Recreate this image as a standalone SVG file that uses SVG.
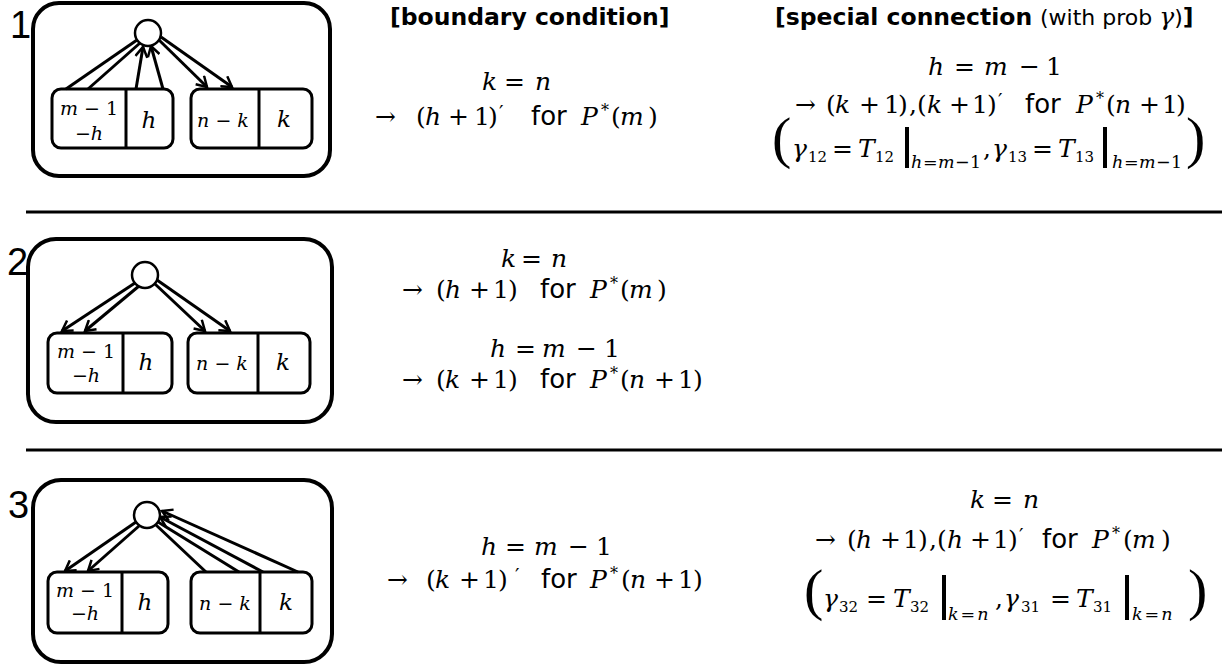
<svg xmlns="http://www.w3.org/2000/svg" width="1222" height="668" viewBox="0 0 1222 668">
<style>
.frame{fill:#fff;stroke:#000;stroke-width:4}
.box{fill:#fff;stroke:#000;stroke-width:3}
.div{stroke:#000;stroke-width:3}
.node{fill:#fff;stroke:#000;stroke-width:2.5}
.conn line{stroke:#000;stroke-width:3}
.sep{stroke:#000;stroke-width:3}
.num{font-family:"Liberation Sans",Arial,sans-serif;font-size:38px;fill:#000}
.m{font-family:"DejaVu Serif","Liberation Serif",serif;font-size:25px;fill:#000}
.bm{font-family:"DejaVu Serif","Liberation Serif",serif;font-size:19px;fill:#000}
.bl{font-family:"DejaVu Serif","Liberation Serif",serif;font-size:23px;font-style:italic;fill:#000}
.i{font-style:italic}
.f{font-family:"DejaVu Sans",Verdana,sans-serif;font-size:26px;font-style:normal}
.hd{font-family:"DejaVu Sans",Verdana,sans-serif;font-size:23.5px;fill:#000}
.b{font-weight:bold}
.big{font-family:"Liberation Serif","Times New Roman",serif;font-size:58px;fill:#000}
.sup{font-size:16px;font-style:normal}
.pr{font-size:20px;font-style:normal}
.sb{font-size:15px;font-style:normal}
.lim{font-family:"DejaVu Serif","Liberation Serif",serif;font-size:17.5px;fill:#000}
.bar{stroke:#000;stroke-width:4}
</style>
<defs>
<marker id="ah" viewBox="0 0 14 14" markerWidth="14" markerHeight="14" refX="12" refY="7" orient="auto" markerUnits="userSpaceOnUse">
<path d="M2,1 L12,7 L2,13" fill="none" stroke="#000" stroke-width="2.5"/>
</marker>
</defs>

<!-- separators -->
<line class="sep" x1="26" y1="212" x2="1222" y2="212"/>
<line class="sep" x1="26" y1="450" x2="1222" y2="450"/>

<!-- ===== Panel 1 ===== -->
<g id="panel1">
<text class="num" x="10" y="38">1</text>
<rect class="frame" x="33" y="3" width="297" height="173" rx="26"/>
</g>
<g id="p1-left">
<rect class="box" x="52" y="89" width="121" height="59" rx="9"/>
<line class="div" x1="126" y1="89" x2="126" y2="148"/>
<text class="bm" x="89" y="115" text-anchor="middle"><tspan class="i">m</tspan> − 1</text>
<text class="bm" x="89" y="140" text-anchor="middle">−<tspan class="i">h</tspan></text>
<text class="bl" x="149" y="128" text-anchor="middle">h</text>
</g>
<g id="p1-right">
<rect class="box" x="191" y="89" width="121" height="59" rx="9"/>
<line class="div" x1="259" y1="89" x2="259" y2="148"/>
<text class="bm" x="223" y="127" text-anchor="middle"><tspan class="i">n</tspan> − <tspan class="i">k</tspan></text>
<text class="bl" x="284" y="127" text-anchor="middle">k</text>
</g>
<g id="p1-conn" class="conn">
<line x1="66" y1="89" x2="137" y2="40"/>
<line x1="88" y1="89" x2="140" y2="43"/>
<line x1="136" y1="89" x2="143" y2="47" marker-end="url(#ah)"/>
<line x1="163" y1="89" x2="151" y2="46" marker-end="url(#ah)"/>
<line x1="159" y1="40" x2="207" y2="87" marker-end="url(#ah)"/>
<line x1="161" y1="37" x2="232" y2="87" marker-end="url(#ah)"/>
</g>
<g id="p1-node"><circle class="node" cx="148" cy="33" r="13"/></g>

<g id="p1-text">
<text class="hd b" x="390" y="25">[boundary condition]</text>
<text class="m" y="90"><tspan class="i" x="482">k</tspan><tspan x="504">=</tspan><tspan class="i" x="535">n</tspan></text>
<text class="m" y="125"><tspan x="375">→</tspan><tspan x="416">(</tspan><tspan class="i" x="425">h</tspan><tspan x="448">+</tspan><tspan x="474">1</tspan><tspan x="488">)</tspan><tspan class="pr" x="499" y="120">′</tspan><tspan class="f" x="531" y="125">for</tspan><tspan class="i" x="581">P</tspan><tspan class="sup" x="601" y="116">*</tspan><tspan x="611" y="125">(</tspan><tspan class="i" x="620">m</tspan><tspan x="648">)</tspan></text>

<text class="hd" x="775" y="25"><tspan class="b">[special connection</tspan><tspan font-size="22" x="1040">(with prob </tspan><tspan class="m i" font-size="22">γ</tspan><tspan font-size="22">)</tspan><tspan class="b">]</tspan></text>
<text class="m" y="75"><tspan class="i" x="928">h</tspan><tspan x="954">=</tspan><tspan class="i" x="984">m</tspan><tspan x="1019">−</tspan><tspan x="1046">1</tspan></text>
<text class="m" y="113"><tspan x="795">→</tspan><tspan x="826">(</tspan><tspan class="i" x="835">k</tspan><tspan x="859">+</tspan><tspan x="884">1</tspan><tspan x="898">)</tspan><tspan x="909">,</tspan><tspan x="917">(</tspan><tspan class="i" x="927">k</tspan><tspan x="949">+</tspan><tspan x="972">1</tspan><tspan x="987">)</tspan><tspan class="pr" x="998" y="108">′</tspan><tspan class="f" x="1025" y="113">for</tspan><tspan class="i" x="1076">P</tspan><tspan class="sup" x="1096" y="104">*</tspan><tspan x="1106" y="113">(</tspan><tspan class="i" x="1115">n</tspan><tspan x="1139">+</tspan><tspan x="1162">1</tspan><tspan x="1176">)</tspan></text>
<text class="big" x="772" y="157">(</text>
<text class="m" y="157"><tspan class="i" x="792">γ</tspan><tspan class="sb" x="808" y="162">12</tspan><tspan x="832" y="157">=</tspan><tspan class="i" x="858">T</tspan><tspan class="sb" x="875" y="162">12</tspan></text>
<line class="bar" x1="907" y1="127" x2="907" y2="168"/>
<text class="lim" y="168"><tspan class="i" x="911">h</tspan><tspan x="923">=</tspan><tspan class="i" x="938">m</tspan><tspan x="955">−</tspan><tspan x="970">1</tspan></text>
<text class="m" y="157"><tspan x="983">,</tspan><tspan class="i" x="992">γ</tspan><tspan class="sb" x="1008" y="162">13</tspan><tspan x="1032" y="157">=</tspan><tspan class="i" x="1058">T</tspan><tspan class="sb" x="1075" y="162">13</tspan></text>
<line class="bar" x1="1105" y1="127" x2="1105" y2="168"/>
<text class="lim" y="168"><tspan class="i" x="1112">h</tspan><tspan x="1124">=</tspan><tspan class="i" x="1139">m</tspan><tspan x="1156">−</tspan><tspan x="1171">1</tspan></text>
<text class="big" x="1186" y="157">)</text>
</g>

<!-- ===== Panel 2 ===== -->
<g id="panel2">
<text class="num" x="7" y="275">2</text>
<rect class="frame" x="28" y="239" width="304" height="183" rx="28"/>
</g>
<g id="p2-left">
<rect class="box" x="48" y="333" width="124" height="60" rx="9"/>
<line class="div" x1="123" y1="333" x2="123" y2="393"/>
<text class="bm" x="86" y="358" text-anchor="middle"><tspan class="i">m</tspan> − 1</text>
<text class="bm" x="86" y="382" text-anchor="middle">−<tspan class="i">h</tspan></text>
<text class="bl" x="146" y="370" text-anchor="middle">h</text>
</g>
<g id="p2-right">
<rect class="box" x="188" y="333" width="122" height="60" rx="9"/>
<line class="div" x1="258" y1="333" x2="258" y2="393"/>
<text class="bm" x="222" y="370" text-anchor="middle"><tspan class="i">n</tspan> − <tspan class="i">k</tspan></text>
<text class="bl" x="283" y="370" text-anchor="middle">k</text>
</g>
<g id="p2-conn" class="conn">
<line x1="135" y1="283" x2="62" y2="331" marker-end="url(#ah)"/>
<line x1="139" y1="286" x2="85" y2="331" marker-end="url(#ah)"/>
<line x1="155" y1="284" x2="205" y2="331" marker-end="url(#ah)"/>
<line x1="157" y1="280" x2="230" y2="331" marker-end="url(#ah)"/>
</g>
<g id="p2-node"><circle class="node" cx="145" cy="275" r="13"/></g>
<g id="p2-text">
<text class="m" y="267"><tspan class="i" x="501">k</tspan><tspan x="521">=</tspan><tspan class="i" x="551">n</tspan></text>
<text class="m" y="298"><tspan x="402">→</tspan><tspan x="436">(</tspan><tspan class="i" x="445">h</tspan><tspan x="469">+</tspan><tspan x="493">1</tspan><tspan x="508">)</tspan><tspan class="f" x="540">for</tspan><tspan class="i" x="590">P</tspan><tspan class="sup" x="610" y="289">*</tspan><tspan x="620" y="298">(</tspan><tspan class="i" x="629">m</tspan><tspan x="657">)</tspan></text>
<text class="m" y="357"><tspan class="i" x="490">h</tspan><tspan x="515">=</tspan><tspan class="i" x="542">m</tspan><tspan x="576">−</tspan><tspan x="604">1</tspan></text>
<text class="m" y="388"><tspan x="402">→</tspan><tspan x="436">(</tspan><tspan class="i" x="445">k</tspan><tspan x="469">+</tspan><tspan x="493">1</tspan><tspan x="508">)</tspan><tspan class="f" x="540">for</tspan><tspan class="i" x="590">P</tspan><tspan class="sup" x="610" y="379">*</tspan><tspan x="620" y="388">(</tspan><tspan class="i" x="629">n</tspan><tspan x="654">+</tspan><tspan x="678">1</tspan><tspan x="693">)</tspan></text>
</g>

<!-- ===== Panel 3 ===== -->
<g id="panel3">
<text class="num" x="8" y="518">3</text>
<rect class="frame" x="33" y="480" width="299" height="182" rx="28"/>
</g>
<g id="p3-left">
<rect class="box" x="48" y="572" width="120" height="61" rx="9"/>
<line class="div" x1="122" y1="572" x2="122" y2="633"/>
<text class="bm" x="85" y="597" text-anchor="middle"><tspan class="i">m</tspan> − 1</text>
<text class="bm" x="85" y="620" text-anchor="middle">−<tspan class="i">h</tspan></text>
<text class="bl" x="145" y="610" text-anchor="middle">h</text>
</g>
<g id="p3-right">
<rect class="box" x="191" y="572" width="121" height="61" rx="9"/>
<line class="div" x1="260" y1="572" x2="260" y2="633"/>
<text class="bm" x="225" y="610" text-anchor="middle"><tspan class="i">n</tspan> − <tspan class="i">k</tspan></text>
<text class="bl" x="286" y="610" text-anchor="middle">k</text>
</g>
<g id="p3-conn" class="conn">
<line x1="136" y1="522" x2="65" y2="571" marker-end="url(#ah)"/>
<line x1="139" y1="526" x2="88" y2="571" marker-end="url(#ah)"/>
<line x1="206" y1="572" x2="156" y2="525"/>
<line x1="239" y1="572" x2="158" y2="522"/>
<line x1="263" y1="572" x2="160" y2="517" marker-end="url(#ah)"/>
<line x1="298" y1="572" x2="162" y2="511" marker-end="url(#ah)"/>
</g>
<g id="p3-node"><circle class="node" cx="147" cy="515" r="13"/></g>
<g id="p3-text">
<text class="m" y="555"><tspan class="i" x="481">h</tspan><tspan x="505">=</tspan><tspan class="i" x="534">m</tspan><tspan x="568">−</tspan><tspan x="596">1</tspan></text>
<text class="m" y="588"><tspan x="387">→</tspan><tspan x="426">(</tspan><tspan class="i" x="435">k</tspan><tspan x="459">+</tspan><tspan x="483">1</tspan><tspan x="498">)</tspan><tspan class="pr" x="515" y="583">′</tspan><tspan class="f" x="541" y="588">for</tspan><tspan class="i" x="590">P</tspan><tspan class="sup" x="610" y="579">*</tspan><tspan x="621" y="588">(</tspan><tspan class="i" x="630">n</tspan><tspan x="654">+</tspan><tspan x="678">1</tspan><tspan x="693">)</tspan></text>

<text class="m" y="508"><tspan class="i" x="970">k</tspan><tspan x="992">=</tspan><tspan class="i" x="1023">n</tspan></text>
<text class="m" y="548"><tspan x="815">→</tspan><tspan x="847">(</tspan><tspan class="i" x="856">h</tspan><tspan x="880">+</tspan><tspan x="903">1</tspan><tspan x="918">)</tspan><tspan x="929">,</tspan><tspan x="937">(</tspan><tspan class="i" x="947">h</tspan><tspan x="970">+</tspan><tspan x="993">1</tspan><tspan x="1008">)</tspan><tspan class="pr" x="1019" y="543">′</tspan><tspan class="f" x="1042" y="548">for</tspan><tspan class="i" x="1092">P</tspan><tspan class="sup" x="1112" y="539">*</tspan><tspan x="1123" y="548">(</tspan><tspan class="i" x="1132">m</tspan><tspan x="1161">)</tspan></text>
<text class="big" x="804" y="609">(</text>
<text class="m" y="607"><tspan class="i" x="823">γ</tspan><tspan class="sb" x="839" y="612">32</tspan><tspan x="866" y="607">=</tspan><tspan class="i" x="893">T</tspan><tspan class="sb" x="910" y="612">32</tspan></text>
<line class="bar" x1="944" y1="575" x2="944" y2="620"/>
<text class="lim" y="620" letter-spacing="2"><tspan class="i" x="948">k</tspan><tspan>=</tspan><tspan class="i">n</tspan></text>
<text class="m" y="607"><tspan x="995">,</tspan><tspan class="i" x="1004">γ</tspan><tspan class="sb" x="1021" y="612">31</tspan><tspan x="1050" y="607">=</tspan><tspan class="i" x="1076">T</tspan><tspan class="sb" x="1093" y="612">31</tspan></text>
<line class="bar" x1="1127" y1="575" x2="1127" y2="620"/>
<text class="lim" y="620" letter-spacing="2"><tspan class="i" x="1132">k</tspan><tspan>=</tspan><tspan class="i">n</tspan></text>
<text class="big" x="1188" y="609">)</text>
</g>
</svg>
